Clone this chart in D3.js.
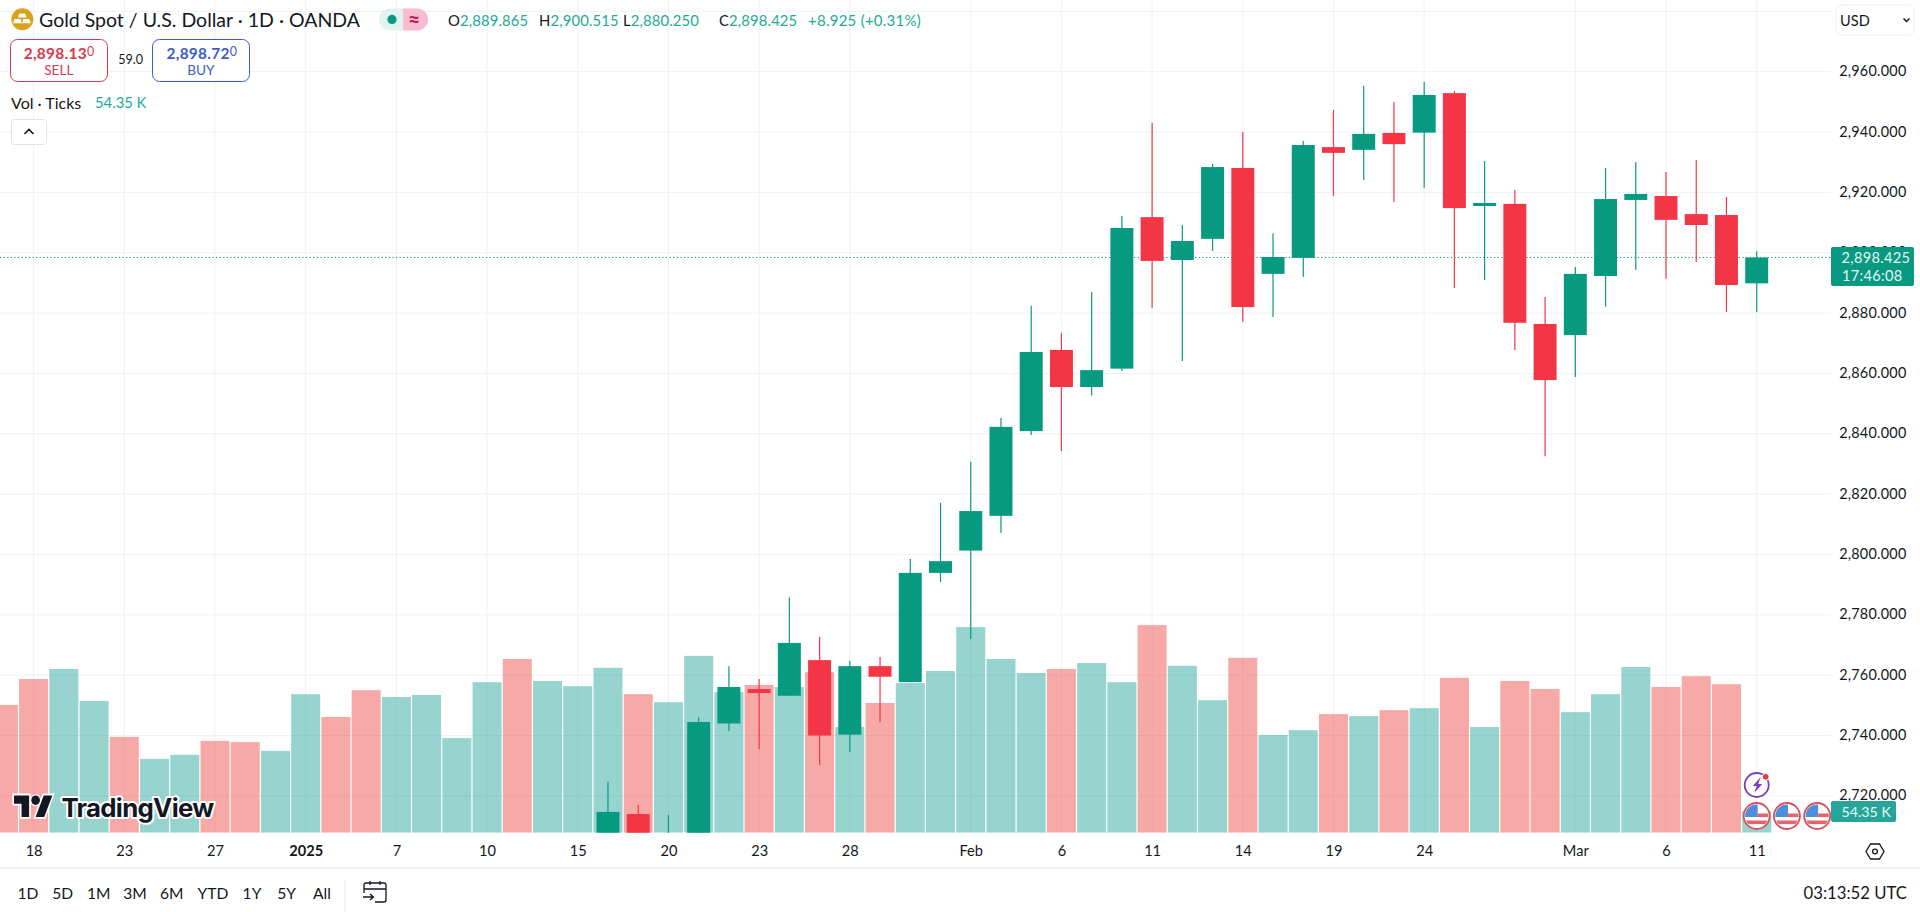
<!DOCTYPE html>
<html>
<head>
<meta charset="utf-8">
<script src="https://cdn.jsdelivr.net/npm/d3@7"></script>
<style>
html,body{margin:0;padding:0;background:#fff;overflow:hidden}
svg{display:block}
text{font-family:Lato,"Noto Sans",sans-serif;fill:#131722}
</style>
</head>
<body>
<svg id="c" width="1920" height="912"></svg>
<script>
const dates = ["12-17","12-18","12-19","12-20","12-23","12-24","12-26","12-27","12-30","12-31",
"01-02","01-03","01-06","01-07","01-08","01-09","01-10","01-13","01-14","01-15",
"01-16","01-17","01-20","01-21","01-22","01-23","01-24","01-27","01-28","01-29",
"01-30","01-31","02-03","02-04","02-05","02-06","02-07","02-10","02-11","02-12",
"02-13","02-14","02-17","02-18","02-19","02-20","02-21","02-24","02-25","02-26",
"02-27","02-28","03-03","03-04","03-05","03-06","03-07","03-10","03-11"];
const tickDates = ["12-18","12-23","12-27","01-02","01-07","01-10","01-15","01-20","01-23","01-28","02-03","02-06","02-11","02-14","02-19","02-24","03-03","03-06","03-11"];
const tickLabels = ["18","23","27","2025","7","10","15","20","23","28","Feb","6","11","14","19","24","Mar","6","11"];
const priceTicks = [2980,2960,2940,2920,2900,2880,2860,2840,2820,2800,2780,2760,2740,2720];

const volumeK = [320,385,410,330,240,185,195,230,227,205,347,290,357,340,345,237,377,435,380,367,413,347,327,443,352,370,365,402,265,325,375,405,515,435,400,410,425,377,520,418,332,438,245,257,297,292,307,312,388,265,380,360,302,347,415,365,392,372,54.35];
const volumeUp = [0,0,1,1,0,1,1,0,0,1,1,0,0,1,1,1,1,0,1,1,1,0,1,1,1,0,1,0,1,0,1,1,1,1,1,0,1,1,0,1,1,0,1,1,0,1,0,1,0,1,0,0,1,1,1,0,0,0,1];

const candleDates = dates.slice(20);
const opens  = [2703,2714,2702,2707,2744,2755.4,2753.2,2765,2740.3,2763,2757.7,2793.9,2801.3,2812.8,2840.9,2867.8,2855.5,2861.6,2911.8,2897.6,2904.6,2928.1,2893,2898.3,2935,2934.1,2939.7,2939.8,2952.9,2915.5,2916.2,2876.4,2872.7,2892.3,2917.5,2918.8,2912.8,2912.5,2889.865];
const highs  = [2724.7,2717,2713.7,2746,2763,2758.7,2785.8,2772.7,2764.7,2766,2798.5,2817.1,2830.7,2845.2,2882.4,2873.4,2887,2912.2,2943.1,2909.2,2929.4,2940,2906.5,2937,2947.3,2955.3,2950,2956.6,2953.6,2930.4,2920.8,2885.3,2895.3,2928.1,2930.1,2926.8,2930.7,2918.5,2900.515];
const lows   = [2695,2695,2698,2700,2741.5,2735.5,2753,2730.2,2734.6,2744.5,2757.7,2790.9,2772,2807.1,2839.6,2834.3,2852.7,2860.8,2881.7,2864.1,2900.6,2877.1,2878.7,2892,2918.8,2924.1,2916.8,2921.5,2888.3,2891,2867.8,2832.6,2858.8,2882.1,2894.3,2891.4,2896.9,2880.4,2880.25];
const closes = [2714.7,2703,2707,2744.5,2756.1,2754.1,2770.7,2740,2763,2759.5,2793.9,2797.8,2814.4,2842.3,2867.1,2855.5,2861.1,2908.2,2897.3,2903.9,2928.4,2882,2898.6,2935.7,2933.1,2939.4,2936,2952.3,2914.8,2916.5,2876.8,2857.8,2893,2917.8,2919.5,2910.9,2909.2,2889.3,2898.425];
const lastPrice = 2898.425;
const rangeButtons = ["1D","5D","1M","3M","6M","YTD","1Y","5Y","All"];
const rangeCenters = [28,62.7,98.7,135,171.7,213,252,286.7,322];

const GREEN="#089981", RED="#f23645", GRID="#f0f1f5", TEXT="#131722", TEAL="#22ab94";
const plotR=1831, plotB=832.7;
const svg=d3.select("#c");
const x=d3.scalePoint().domain(dates).range([3.4,1756.7]);
const y=d3.scaleLinear().domain([2960,2720]).range([71.7,795.9]);
const v=d3.scaleLinear().domain([0,1000]).range([plotB,plotB-399.2]);
const step=x.step();

svg.append("defs").append("clipPath").attr("id","plot").append("rect").attr("x",0).attr("y",0).attr("width",plotR).attr("height",plotB);
const plot=svg.append("g").attr("clip-path","url(#plot)");

// grid
plot.append("g").selectAll("line").data(priceTicks).join("line")
 .attr("x1",0).attr("x2",plotR).attr("y1",d=>y(d)).attr("y2",d=>y(d)).attr("stroke",GRID).attr("stroke-width",1);
plot.append("g").selectAll("line").data(tickDates).join("line")
 .attr("x1",d=>x(d)).attr("x2",d=>x(d)).attr("y1",0).attr("y2",plotB).attr("stroke",GRID).attr("stroke-width",1);

// volume
const vw=step*0.96;
plot.append("g").selectAll("rect").data(dates).join("rect")
 .attr("x",d=>x(d)-vw/2).attr("width",vw)
 .attr("y",(d,i)=>v(volumeK[i])).attr("height",(d,i)=>plotB-v(volumeK[i]))
 .attr("fill",(d,i)=>volumeUp[i]?"rgba(38,166,154,.48)":"rgba(239,83,80,.5)");

// last price line
plot.append("line").attr("x1",0).attr("x2",plotR).attr("y1",y(lastPrice)).attr("y2",y(lastPrice))
 .attr("stroke",GREEN).attr("stroke-width",1).attr("stroke-dasharray","1.2 2.4");

// candles
const cw=step*0.76;
const col=i=>closes[i]>=opens[i]?GREEN:RED;
const cg=plot.append("g");
cg.selectAll("line").data(candleDates).join("line")
 .attr("x1",d=>x(d)).attr("x2",d=>x(d))
 .attr("y1",(d,i)=>y(highs[i])).attr("y2",(d,i)=>y(lows[i]))
 .attr("stroke",(d,i)=>col(i)).attr("stroke-width",1.2);
cg.selectAll("rect").data(candleDates).join("rect")
 .attr("x",d=>x(d)-cw/2).attr("width",cw)
 .attr("y",(d,i)=>y(Math.max(opens[i],closes[i])))
 .attr("height",(d,i)=>Math.max(2.5,Math.abs(y(opens[i])-y(closes[i]))))
 .attr("fill",(d,i)=>col(i));

// price axis
const yAxis=d3.axisLeft(y).tickValues(priceTicks.slice(1)).tickSize(0).tickPadding(0).tickFormat(d3.format(",.3f"));
const ya=svg.append("g").attr("transform","translate(1906.5,-0.6)").call(yAxis);
ya.select(".domain").remove();
ya.selectAll("text").attr("font-size",14.4).attr("font-family","Lato").attr("fill",TEXT).attr("letter-spacing","0.25");

// time axis
const xAxis=d3.axisBottom(x).tickValues(tickDates).tickSize(0).tickPadding(0).tickFormat((d,i)=>tickLabels[i]);
const xa=svg.append("g").attr("transform","translate(0,845.2)").call(xAxis);
xa.select(".domain").remove();
xa.selectAll("text").attr("font-size",14.6).attr("font-family","Lato").attr("fill",TEXT)
 .attr("font-weight",d=>d==="01-02"?700:400);

// separators
svg.append("line").attr("x1",0).attr("x2",1920).attr("y1",868).attr("y2",868).attr("stroke","#e0e3eb");
svg.append("line").attr("x1",345).attr("x2",345).attr("y1",880).attr("y2",912).attr("stroke","#e9ebf0");

function t(s,xp,yp,o={}){
  const e=svg.append("text").attr("x",xp).attr("y",yp).attr("dominant-baseline","central").text(s);
  Object.entries(o).forEach(([k,val])=>e.attr(k,val));
  return e;
}

// title row
svg.append("circle").attr("cx",22.3).attr("cy",19.3).attr("r",11).attr("fill","#d9a21b");
svg.append("path").attr("fill","#fff").attr("d","M19.5 13.5h5.5l1.5 4h-8.5zM14.5 19h6l1.3 4.2H13zM23.3 19h6l1.6 4.2h-8.8z");
t("Gold Spot / U.S. Dollar · 1D · OANDA",39,19.5,{"font-size":19.5});
svg.append("path").attr("fill","#e0f3ef").attr("d","M403 8.5h-13a11 11 0 0 0 0 22h13z");
svg.append("path").attr("fill","#f8bbd0").attr("d","M403 8.5h14a11 11 0 0 1 0 22h-14z");
svg.append("circle").attr("cx",392).attr("cy",19.4).attr("r",4.6).attr("fill",GREEN);
t("≈",414,18.5,{"font-size":21,"text-anchor":"middle","font-weight":700,"style":"fill:#c2185b"});

[["O","2,889.865",448],["H","2,900.515",539],["L","2,880.250",623],["C","2,898.425",719]].forEach(([a,b,p])=>{
  const e=t(a,p,19.5,{"font-size":14.8,"letter-spacing":"0.15"});
  e.append("tspan").text(b).attr("style","fill:"+TEAL);
});
t("+8.925 (+0.31%)",808,19.5,{"font-size":15,"letter-spacing":"0.25","style":"fill:"+TEAL});

// sell / buy
const SC="#d63a4d",BC="#3c5cc8";
svg.append("rect").attr("x",10.5).attr("y",39.5).attr("width",97).attr("height",42).attr("rx",7).attr("fill","#fff").attr("stroke",SC).attr("stroke-width",1);
svg.append("rect").attr("x",152.5).attr("y",39.5).attr("width",97).attr("height",42).attr("rx",7).attr("fill","#fff").attr("stroke",BC).attr("stroke-width",1);
const s1=t("2,898.13",23.7,52.8,{"font-size":15.4,"font-weight":700,"style":"fill:"+SC,"letter-spacing":"0.3"});
s1.append("tspan").text("0").attr("font-size",12.5).attr("font-weight",400).attr("dy",-1.5);
t("SELL",58.8,70.4,{"font-size":13.6,"text-anchor":"middle","style":"fill:"+SC});
const s2=t("2,898.72",166.5,52.8,{"font-size":15.4,"font-weight":700,"style":"fill:"+BC,"letter-spacing":"0.3"});
s2.append("tspan").text("0").attr("font-size",12.5).attr("font-weight",400).attr("dy",-1.5);
t("BUY",200.8,70.4,{"font-size":13.6,"text-anchor":"middle","style":"fill:"+BC});
t("59.0",130.6,59.8,{"font-size":12.6,"text-anchor":"middle"});

// volume legend
t("Vol · Ticks",11,102,{"font-size":16});
t("54.35 K",95,102,{"font-size":14.8,"style":"fill:"+TEAL});
svg.append("rect").attr("x",11.5).attr("y",119.5).attr("width",35).attr("height",25).attr("rx",3).attr("fill","#fff").attr("stroke","#e0e3eb");
svg.append("path").attr("d","M24.5 134l4.5-4.5 4.5 4.5").attr("fill","none").attr("stroke",TEXT).attr("stroke-width",1.6);

// currency
svg.append("rect").attr("x",1836).attr("y",5).attr("width",78).attr("height",30).attr("rx",6).attr("fill","#fff").attr("stroke","#eceef3");
t("USD",1840,20.5,{"font-size":14.6});
svg.append("path").attr("d","M1903.5 18.5l3 3 3-3").attr("fill","none").attr("stroke",TEXT).attr("stroke-width",1.5);

// last price tags
svg.append("rect").attr("x",1831).attr("y",247).attr("width",83).attr("height",39).attr("rx",2).attr("fill",GREEN);
t(d3.format(",.3f")(lastPrice),1841.5,257.4,{"font-size":14.6,"letter-spacing":"0.3","style":"fill:#e3f6f2"});
t("17:46:08",1842,275,{"font-size":14.6,"letter-spacing":"0.3","style":"fill:#e3f6f2"});
svg.append("rect").attr("x",1831).attr("y",801).attr("width",65).attr("height",21).attr("rx",2).attr("fill","#26a69a");
t("54.35 K",1841.5,811.5,{"font-size":14.2,"style":"fill:#eafaf7"});

// markers
const mx=x(dates[dates.length-1]);
svg.append("circle").attr("cx",mx).attr("cy",785).attr("r",12).attr("fill","#fff").attr("stroke","#7b3fb8").attr("stroke-width",1.8);
svg.append("path").attr("fill","#7b3fb8").attr("d",`M${mx+4} ${777}l-8 9h4l-2.5 7 8-9h-4z`);
svg.append("circle").attr("cx",mx+9).attr("cy",776.8).attr("r",3.4).attr("fill","#e53844").attr("stroke","#fff");
const defs=svg.select("defs");
[mx,mx+step,mx+2*step].forEach((cx,i)=>{
  defs.append("clipPath").attr("id","f"+i).append("circle").attr("cx",cx).attr("cy",816).attr("r",11.6);
  svg.append("circle").attr("cx",cx).attr("cy",816).attr("r",13).attr("fill","#fff").attr("stroke","#d9505a").attr("stroke-width",1.8);
  const f=svg.append("g").attr("clip-path",`url(#f${i})`);
  f.append("rect").attr("x",cx-12).attr("y",804).attr("width",24).attr("height",24).attr("fill","#fff");
  f.append("rect").attr("x",cx-12).attr("y",804).attr("width",13).attr("height",13).attr("fill","#4f8ed8");
  f.append("rect").attr("x",cx+1).attr("y",813.5).attr("width",12).attr("height",3.6).attr("fill","#e2656c");
  f.append("rect").attr("x",cx-12).attr("y",820.5).attr("width",24).attr("height",3.6).attr("fill","#e2656c");
});

// watermark logo
const lg=svg.append("g").attr("transform","translate(14,790.6) scale(1.08,1.2)");
lg.append("path").attr("d","M14 22H7V11H0V4h14v18zM28 22h-8l7.5-18h8L28 22z").attr("fill","#131722").attr("stroke","#fff").attr("stroke-width",3).attr("paint-order","stroke");
lg.append("circle").attr("cx",20).attr("cy",8).attr("r",4).attr("fill","#131722").attr("stroke","#fff").attr("stroke-width",2).attr("paint-order","stroke");
t("TradingView",61.5,807,{"font-size":25.8,"font-weight":700,"paint-order":"stroke","stroke":"#fff","stroke-width":4,"stroke-linejoin":"round","style":"font-family:Inter;fill:#131722;letter-spacing:-0.7px"});

// range buttons
rangeButtons.forEach((r,i)=>t(r,rangeCenters[i],893,{"font-size":15.6,"text-anchor":"middle"}));
svg.append("path").attr("fill","none").attr("stroke",TEXT).attr("stroke-width",1.3)
 .attr("d","M364 893v-8a2 2 0 0 1 2-2h18a2 2 0 0 1 2 2v15a2 2 0 0 1-2 2h-9M364 889h22M370 881v4M380 881v4M363 897h10M370 894l3.5 3-3.5 3");
t("03:13:52 UTC",1907,893,{"font-size":16.7,"text-anchor":"end"});

// settings icon
svg.append("path").attr("fill","none").attr("stroke",TEXT).attr("stroke-width",1.3)
 .attr("d","M1866 851.5l4.5-7.5h9l4.5 7.5-4.5 7.5h-9z");
svg.append("circle").attr("cx",1875).attr("cy",851.5).attr("r",2.4).attr("fill","none").attr("stroke",TEXT).attr("stroke-width",1.3);
</script>
</body>
</html>
